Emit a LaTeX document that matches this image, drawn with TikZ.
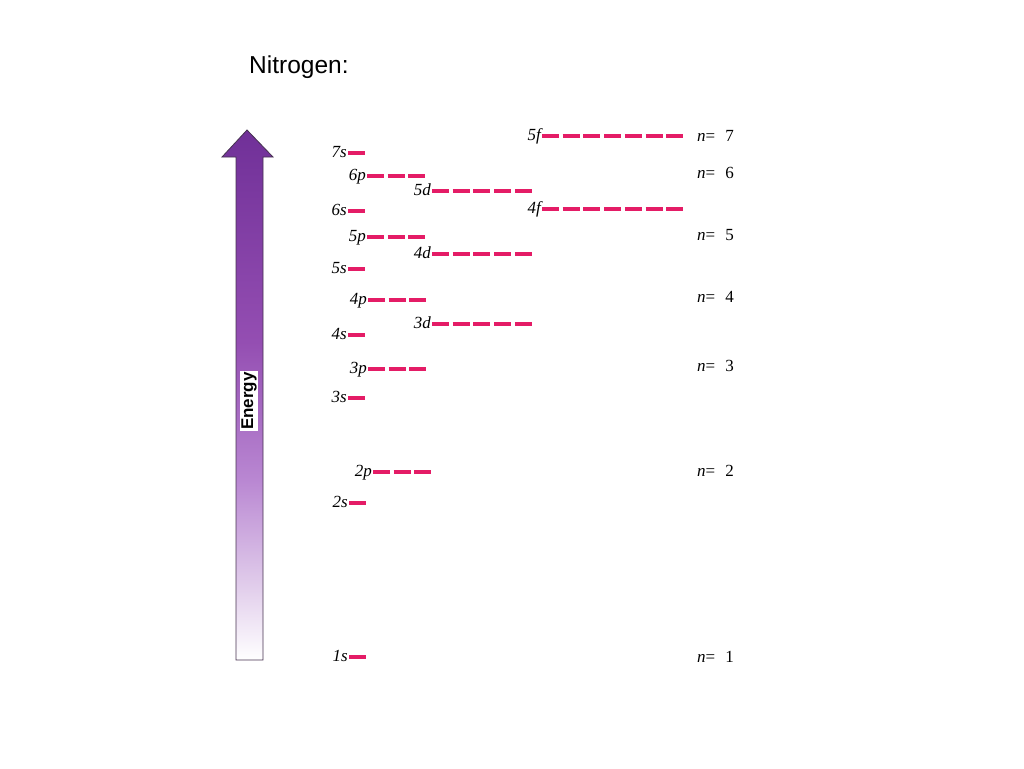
\documentclass[tikz,border=0pt]{standalone}
\usepackage{fontspec}
\setmainfont{Liberation Serif}
\newfontfamily\arialfont{Liberation Sans}
\definecolor{orbcol}{RGB}{228,28,102}
\definecolor{purpTop}{RGB}{112,48,152}
\definecolor{purpMid}{RGB}{148,78,178}
\definecolor{purpLight}{RGB}{185,135,210}
\definecolor{purpPale}{RGB}{225,205,235}
\definecolor{arrowedge}{RGB}{70,50,80}
\pgfdeclareverticalshading{energyshade}{100bp}{color(0bp)=(white); color(25bp)=(white); color(32bp)=(purpPale); color(42bp)=(purpLight); color(55bp)=(purpMid); color(75bp)=(purpTop); color(100bp)=(purpTop)}
\tikzset{
  orb/.style={draw=orbcol, line width=3.5pt, dash pattern=on 17pt off 3.7pt},
  lbl/.style={anchor=base east, inner sep=0pt, font=\fontsize{17}{19}\selectfont\itshape},
  nlbl/.style={anchor=base west, inner sep=0pt, font=\fontsize{17}{19}\selectfont},
}
\newcommand{\orbrow}[5]{%
  \node[lbl] (#1) at (#3-1,#4+4) {#2};
  \draw[orb] (#3,#4) -- (#5,#4);}
\begin{document}
\begin{tikzpicture}[x=1pt,y=-1pt]
\useasboundingbox (0,0) rectangle (1024,768);
\node[font=\arialfont\fontsize{24.5}{27}\selectfont, anchor=base west, inner sep=0pt] (title) at (249,73) {Nitrogen:};
% energy arrow
\shade[shading=energyshade, draw=arrowedge, line width=0.8pt]
  (247,130) -- (273,157) -- (263,157) -- (263,660) -- (236,660) -- (236,157) -- (222,157) -- cycle;
\node[rotate=90, fill=white, inner sep=1.2pt, font=\arialfont\bfseries\fontsize{17}{19}\selectfont] (energy) at (249,401) {Energy};
% orbitals
\orbrow{o1s}{1s}{349}{657}{366}
\orbrow{o2s}{2s}{349}{503}{366}
\orbrow{o2p}{2p}{373}{472}{431}
\orbrow{o3s}{3s}{348}{398}{365}
\orbrow{o3p}{3p}{368}{369}{426}
\orbrow{o4s}{4s}{348}{335}{365}
\orbrow{o4p}{4p}{368}{300}{426}
\orbrow{o3d}{3d}{432}{324}{533}
\orbrow{o5s}{5s}{348}{269}{365}
\orbrow{o5p}{5p}{367}{237}{425}
\orbrow{o4d}{4d}{432}{254}{533}
\orbrow{o6s}{6s}{348}{211}{365}
\orbrow{o6p}{6p}{367}{176}{425}
\orbrow{o5d}{5d}{432}{191}{533}
\orbrow{o7s}{7s}{348}{153}{365}
\orbrow{o4f}{4f}{542}{209}{684}
\orbrow{o5f}{5f}{542}{136}{684}
% shell labels
\node[nlbl] (n7) at (697,141) {\textit{n}=\hspace{10pt}7};
\node[nlbl] (n6) at (697,178) {\textit{n}=\hspace{10pt}6};
\node[nlbl] (n5) at (697,240) {\textit{n}=\hspace{10pt}5};
\node[nlbl] (n4) at (697,302) {\textit{n}=\hspace{10pt}4};
\node[nlbl] (n3) at (697,371) {\textit{n}=\hspace{10pt}3};
\node[nlbl] (n2) at (697,476) {\textit{n}=\hspace{10pt}2};
\node[nlbl] (n1) at (697,662) {\textit{n}=\hspace{10pt}1};
\end{tikzpicture}
\end{document}
